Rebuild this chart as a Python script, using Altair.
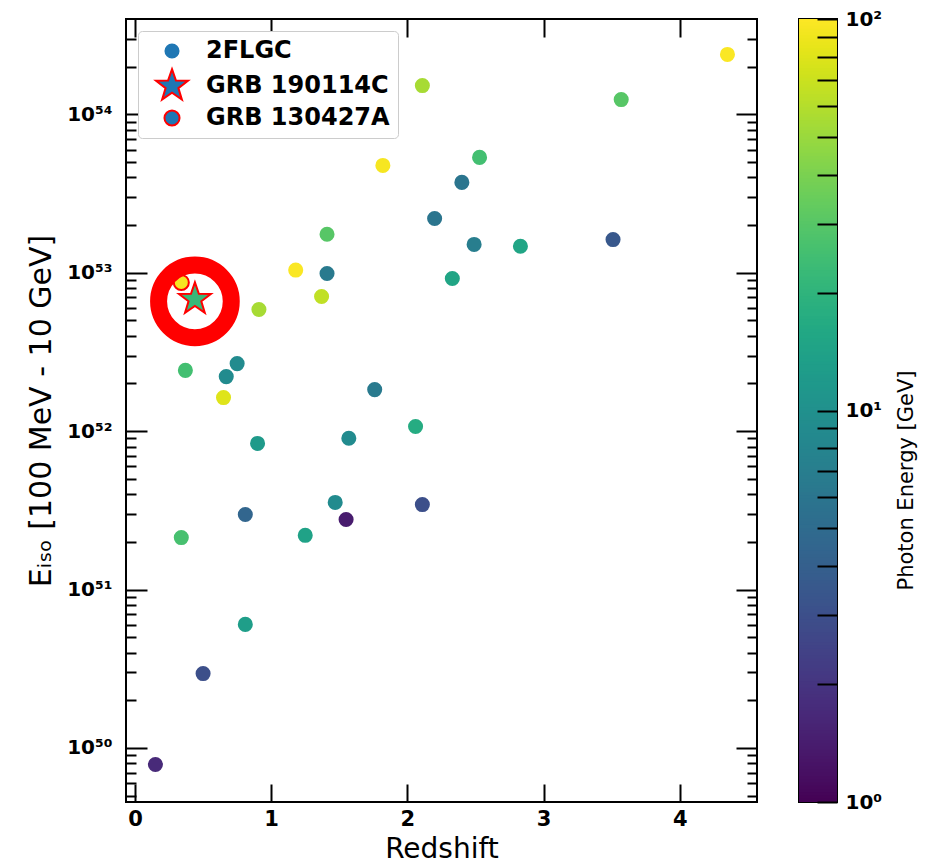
import altair as alt
import pandas as pd
import numpy as np

# ---- 2FLGC sample ----
redshift = [4.35, 2.11, 3.57, 1.82, 2.53, 2.40, 2.20, 1.41, 2.49, 2.83, 3.51, 1.18, 1.41, 2.33,
            1.37, 0.91, 0.37, 0.67, 0.75, 0.65, 1.76, 0.90, 1.57, 2.06, 1.47, 1.55, 2.11, 0.81,
            0.34, 1.25, 0.81, 0.50, 0.15]
eiso = [2.39e54, 1.52e54, 1.24e54, 4.76e53, 5.35e53, 3.72e53, 2.20e53, 1.75e53, 1.51e53, 1.47e53,
        1.62e53, 1.04e53, 9.9e52, 9.2e52, 7.08e52, 5.86e52, 2.42e52, 2.21e52, 2.67e52, 1.63e52,
        1.83e52, 8.37e51, 9.02e51, 1.07e52, 3.55e51, 2.77e51, 3.44e51, 2.98e51, 2.13e51, 2.20e51,
        6.03e50, 2.95e50, 7.87e49]
photon_gev = [98, 55, 30, 95, 25, 6, 6, 30, 7, 15, 3.5, 98, 6.5, 15, 65, 55, 25, 9, 9, 80,
              6.5, 12, 9, 17, 9, 1.4, 3, 4.5, 26, 14, 13, 3, 1.7]

# ---- highlighted bursts ----
grb_names = ["GRB 130427A", "GRB 190114C"]
grb_redshift = [0.34, 0.44]
grb_eiso = [8.69e52, 6.81e52]
grb_gev = [95, 22]

# ---- red ring annotation around GRB 190114C ----
ring_redshift = [0.44]
ring_eiso = [6.6e52]

legend_order = ["2FLGC", "GRB 190114C", "GRB 130427A"]

# axis settings
x_domain = [-0.066, 4.567]
y_domain = [10 ** 49.659, 10 ** 54.602]
x_ticks = [0, 1, 2, 3, 4]
y_exponents = [50, 51, 52, 53, 54]
cb_exponents = [0, 1, 2]

SUP = {"0": "⁰", "1": "¹", "2": "²", "3": "³", "4": "⁴", "5": "⁵", "6": "⁶", "7": "⁷", "8": "⁸", "9": "⁹"}


def sup(n):
    return "".join(SUP[c] for c in str(n))


def label_expr(exps):
    expr = "''"
    for e in reversed(exps):
        expr = f"datum.value == {float(10 ** e)!r} ? '10{sup(e)}' : " + expr
    return expr


y_major = [float(10 ** e) for e in y_exponents]
y_minor = [float(m * 10 ** k) for k in range(49, 55) for m in range(2, 10)
           if y_domain[0] < m * 10 ** k < y_domain[1]]
cb_ticks = [float(m * 10 ** k) for k in range(0, 2) for m in range(1, 10)] + [100.0]

df = pd.DataFrame({
    "z": redshift + grb_redshift,
    "eiso": eiso + grb_eiso,
    "gev": photon_gev + grb_gev,
    "src": ["2FLGC"] * len(redshift) + grb_names,
})
ring_df = pd.DataFrame({"z": ring_redshift, "eiso": ring_eiso})

STAR = ("M0,-1L0.235,-0.324L0.951,-0.309L0.38,0.124L0.588,0.809L0,0.4"
        "L-0.588,0.809L-0.38,0.124L-0.951,-0.309L-0.235,-0.324Z")

xs = alt.Scale(domain=x_domain, nice=False, zero=False)
ys = alt.Scale(type="log", domain=y_domain, nice=False)
cs = alt.Scale(type="log", domain=[1, 100], scheme="viridis")

FONT = "DejaVu Sans"

legend = alt.Legend(
    title=None, orient="top-left", offset=12, padding=8, fillColor="white",
    strokeColor="#cccccc", cornerRadius=4, labelFont=FONT, labelFontWeight="bold",
    labelFontSize=24, labelColor="black", symbolFillColor="#1f77b4", symbolStrokeWidth=2,
    rowPadding=2, symbolOffset=8, labelOffset=16, labelLimit=400,
)

points = alt.Chart(df).mark_point(filled=True, opacity=1, strokeWidth=2).encode(
    x=alt.X("z:Q", scale=xs, axis=alt.Axis(
        orient="bottom", values=x_ticks, format="d", tickSize=18, offset=-18,
        labelPadding=6, labelFontSize=21, labelFontWeight="bold", labelFlush=False,
        title="Redshift", titleFontSize=28, titleFontWeight="normal", titlePadding=6)),
    y=alt.Y("eiso:Q", scale=ys, axis=alt.Axis(
        orient="left", values=y_major, labelExpr=label_expr(y_exponents), tickSize=21,
        offset=-21, labelPadding=14, labelFontSize=20, labelFontWeight="bold",
        labelOverlap=False, labelFlush=False,
        title="Eᵢₛₒ [100 MeV - 10 GeV]", titleFontSize=30, titleFontWeight="normal",
        titlePadding=10)),
    fill=alt.Fill("gev:Q", scale=cs, legend=None),
    shape=alt.Shape("src:N", scale=alt.Scale(type="ordinal", domain=legend_order,
                                             range=["circle", STAR, "circle"]), legend=legend),
    stroke=alt.Stroke("src:N", scale=alt.Scale(type="ordinal", domain=legend_order,
                                               range=["transparent", "red", "red"]), legend=legend),
    size=alt.Size("src:N", scale=alt.Scale(type="ordinal", domain=legend_order,
                                           range=[227, 1130, 227]), legend=legend),
)

ring = alt.Chart(ring_df).mark_point(filled=False, color="red", opacity=1,
                                     strokeWidth=17, size=5281).encode(
    x=alt.X("z:Q", scale=xs, axis=None),
    y=alt.Y("eiso:Q", scale=ys, axis=alt.Axis(
        orient="left", values=y_minor, tickSize=10, offset=-10, labels=False, title=None)),
)

frame_major = alt.Chart(df).mark_point(opacity=0).encode(
    x=alt.X("z:Q", scale=xs, axis=alt.Axis(
        orient="top", values=x_ticks, tickSize=18, offset=-18, labels=False, title=None)),
    y=alt.Y("eiso:Q", scale=ys, axis=alt.Axis(
        orient="right", values=y_major, tickSize=21, offset=-21, labels=False, title=None)),
)

frame_minor = alt.Chart(df).mark_point(opacity=0).encode(
    x=alt.X("z:Q", scale=xs, axis=None),
    y=alt.Y("eiso:Q", scale=ys, axis=alt.Axis(
        orient="right", values=y_minor, tickSize=10, offset=-10, labels=False, title=None)),
)

main = alt.layer(points, ring, frame_major, frame_minor).resolve_axis(
    x="independent", y="independent"
).properties(width=631, height=783)

# colour bar as a strip of thin, slightly overlapping bands
edges = np.geomspace(1, 100, 241)
cb_df = pd.DataFrame({
    "lo": edges[:-1],
    "hi": np.minimum(edges[1:] * 1.01, 100.0),
    "mid": np.sqrt(edges[:-1] * edges[1:]),
})

colorbar = alt.Chart(cb_df).mark_rect().encode(
    y=alt.Y("lo:Q", scale=alt.Scale(type="log", domain=[1, 100], nice=False), axis=alt.Axis(
        orient="right", values=cb_ticks, labelExpr=label_expr(cb_exponents), tickSize=20,
        offset=-20, labelPadding=8, labelFontSize=20, labelFontWeight="bold",
        labelOverlap=False, labelFlush=False, zindex=1,
        title="Photon Energy [GeV]", titleFontSize=21, titleFontWeight="normal",
        titleAngle=270, titleBaseline="top", titlePadding=14, titleY=461)),
    y2="hi:Q",
    fill=alt.Fill("mid:Q", scale=cs, legend=None),
).properties(width=38, height=783)

chart = alt.hconcat(main, colorbar, spacing=39).resolve_legend(
    shape="independent", stroke="independent", size="independent"
).properties(
    padding={"left": 17, "top": 0, "right": 5, "bottom": 0}
).configure_view(
    stroke="black", strokeWidth=2
).configure_axis(
    tickColor="black", tickWidth=2, labelColor="black", titleColor="black",
    labelFont=FONT, titleFont=FONT, domain=False, grid=False
)

chart.save("out.html", embed_options={"renderer": "svg", "actions": False})
